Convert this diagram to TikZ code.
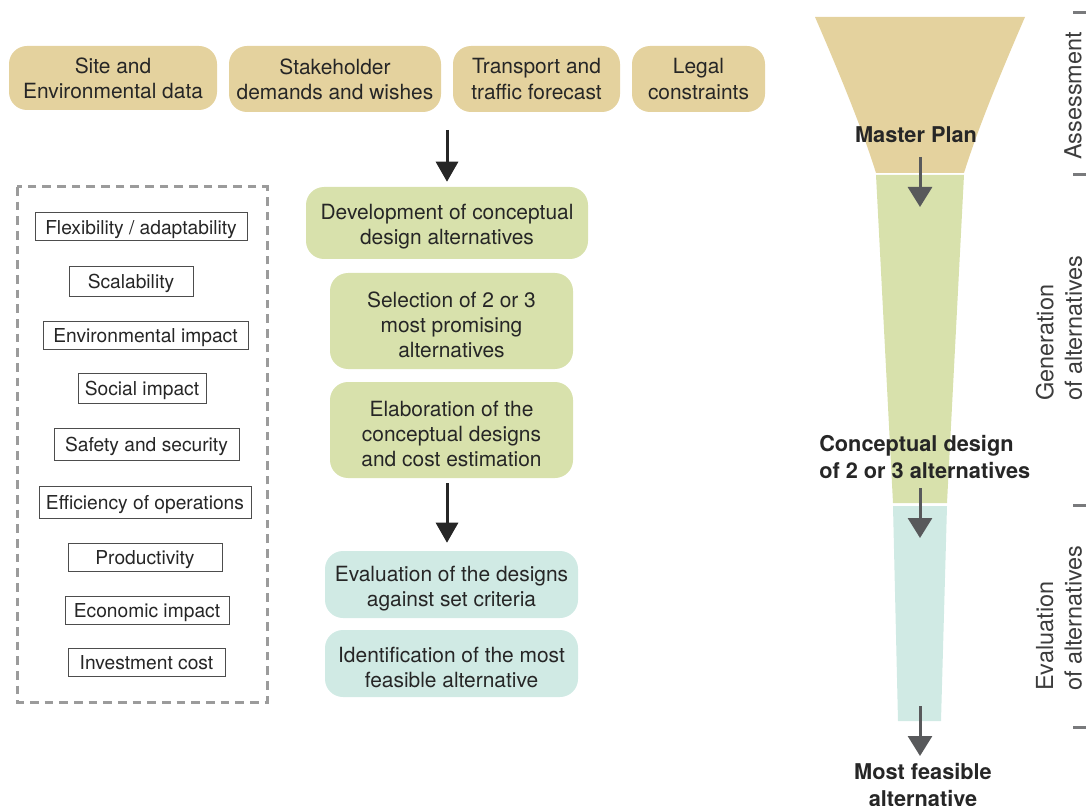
\documentclass[tikz,border=0pt]{standalone}
\usepackage{fontspec}
\setmainfont{TeX Gyre Heros}
\usetikzlibrary{arrows.meta}
\definecolor{cTan}{HTML}{E4D29E}
\definecolor{cGreen}{HTML}{D8E1AC}
\definecolor{cTeal}{HTML}{D0EAE4}
\definecolor{cTxt}{HTML}{262626}
\definecolor{cDash}{HTML}{9B9B9B}
\definecolor{cFun}{HTML}{58595B}
\definecolor{cLine}{HTML}{4D4D4D}
\definecolor{cVl}{HTML}{3C3C3C}
\newcommand{\tstrut}{\rule{0pt}{17.4pt}}
\begin{document}
\begin{tikzpicture}[x=0.75pt,y=-0.75pt,
  procbox/.style={rounded corners=13.5pt, text=cTxt, align=center, inner sep=0pt,
    font=\fontsize{15.7pt}{18.8pt}\selectfont},
  tanbox/.style={procbox, fill=cTan},
  greenbox/.style={procbox, fill=cGreen},
  tealbox/.style={procbox, fill=cTeal},
  crit/.style={draw=cLine, line width=0.75pt, fill=white, inner sep=0pt, text=cTxt,
    text height=13.6pt, text depth=3pt, font=\fontsize{14.4pt}{17pt}\selectfont},
  bigarrow/.style={draw=cTxt, line width=2.25pt, -{Triangle[length=15pt,width=16.5pt]}},
  funarrow/.style={draw=cFun, line width=2.25pt, -{Triangle[length=15pt,width=18pt]}},
  blab/.style={inner sep=0pt, text=cTxt, font=\fontsize{16.3pt}{20.5pt}\selectfont\bfseries},
  vlab/.style={inner sep=0pt, text=cVl, rotate=90, font=\fontsize{17.6pt}{21.5pt}\selectfont},
  tick/.style={draw=cFun!80, line width=2.25pt}
]
\useasboundingbox (0,0) rectangle (1086,806);

% ---------- input boxes ----------
\node[tanbox, minimum width=156pt, minimum height=48pt] (site) at (113,78) {Site and\\Environmental data};
\node[tanbox, minimum width=159pt, minimum height=49.5pt] (stake) at (335,79) {Stakeholder\\demands and wishes};
\node[tanbox, minimum width=125.25pt, minimum height=49.5pt] (trans) at (536.5,79) {Transport and\\traffic forecast};
\node[tanbox, minimum width=99.75pt, minimum height=49.5pt] (legal) at (698.5,79) {Legal\\constraints};

% ---------- process boxes ----------
\node[greenbox, minimum width=211.5pt, minimum height=54pt] (dev) at (447,223) {\tstrut Development of conceptual\\design alternatives};
\node[greenbox, minimum width=182.25pt, minimum height=72pt] (sel) at (451.5,321) {\tstrut Selection of 2 or 3\\most promising\\alternatives};
\node[greenbox, minimum width=182.25pt, minimum height=72pt] (elab) at (451.5,430) {\tstrut Elaboration of the\\conceptual designs\\and cost estimation};
\node[tealbox, minimum width=189.75pt, minimum height=50.25pt] (eval) at (451.5,584.5) {\tstrut Evaluation of the designs\\against set criteria};
\node[tealbox, minimum width=189.75pt, minimum height=50.25pt] (ident) at (451.5,663.5) {\tstrut Identification of the most\\feasible alternative};

% ---------- arrows ----------
\coordinate (inputs) at (447,130);
\draw[bigarrow, shorten >=3.75pt] (inputs) -- (dev.north);
\draw[bigarrow, shorten <=3.75pt, shorten >=6pt] (dev.center |- elab.south) -- (dev.center |- eval.north);

% ---------- criteria ----------
\draw[cDash, line width=2.25pt, dash pattern=on 6.5pt off 4.5pt] (17,187) rectangle (267,702);
\node[crit, minimum width=159pt, minimum height=21pt] (flex) at (141,227) {Flexibility / adaptability};
\node[crit, minimum width=93pt, minimum height=21.75pt] (scal) at (131,281.5) {Scalability};
\node[crit, minimum width=153.75pt, minimum height=21pt] (env) at (145.5,335) {Environmental impact};
\node[crit, minimum width=96pt, minimum height=22.5pt] (soc) at (142,388) {Social impact};
\node[crit, minimum width=138.75pt, minimum height=24pt] (safe) at (146.5,444) {Safety and security};
\node[crit, minimum width=159pt, minimum height=24pt] (eff) at (145,502) {Efficiency of operations};
\node[crit, minimum width=115.5pt, minimum height=21pt] (prod) at (145,557) {Productivity};
\node[crit, minimum width=123pt, minimum height=21pt] (econ) at (147,610) {Economic impact};
\node[crit, minimum width=117.75pt, minimum height=21pt] (inv) at (146.5,662) {Investment cost};

% ---------- funnel ----------
\fill[cTan] (815,17) .. controls (838,70) and (862,128) .. (876,173) -- (964,173)
  .. controls (978,128) and (1002,70) .. (1025,17) -- cycle;
\fill[cGreen] (876,175) -- (964,175) -- (947,503) -- (893,503) -- cycle;
\fill[cTeal] (893,506) -- (947,506) -- (941,721) -- (898,721) -- cycle;

\coordinate (fa1s) at (920,157); \coordinate (fa1e) at (920,207);
\coordinate (fa2s) at (920,488); \coordinate (fa2e) at (920,538);
\coordinate (fa3s) at (920,706); \coordinate (fa3e) at (920,756);
\draw[funarrow] (fa1s) -- (fa1e);
\draw[funarrow] (fa2s) -- (fa2e);
\draw[funarrow] (fa3s) -- (fa3e);

\node[blab] (mp) at (916,135) {Master Plan};
\node[blab, anchor=west, align=left] (cd) at (819,457) {Conceptual design\\of 2 or 3 alternatives};
\node[blab, align=center] (mf) at (923,785) {Most feasible\\alternative};

% ---------- phase labels ----------
\foreach \ty in {13,175,505,727} \draw[tick] (1073,\ty) -- (1086,\ty);
\node[vlab] (assess) at (1073,96) {Assessment};
\node[vlab, anchor=west, align=left] (gen) at (1059,401) {Generation\\of alternatives};
\node[vlab, anchor=west, align=left] (evl) at (1059,691) {Evaluation\\of alternatives};
\end{tikzpicture}
\end{document}
